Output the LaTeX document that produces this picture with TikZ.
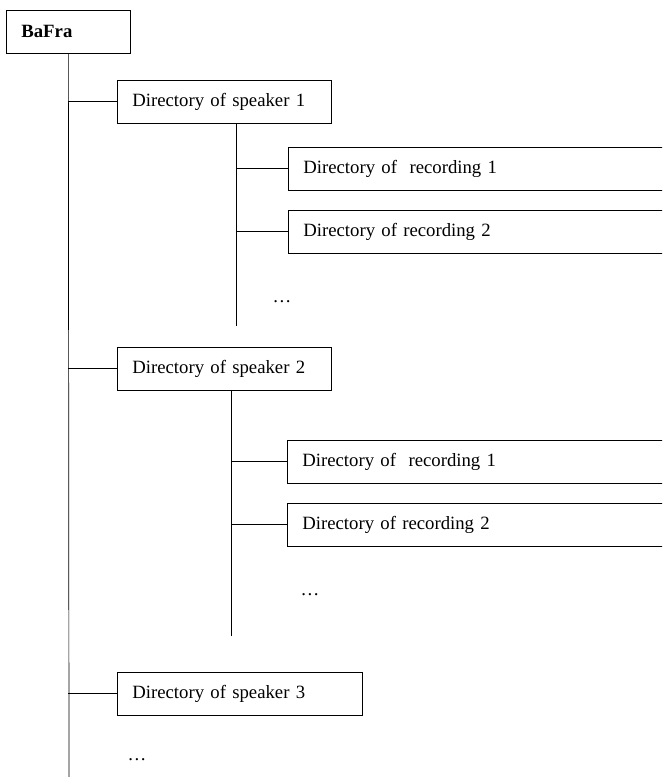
\documentclass[tikz,border=0pt]{standalone}
\usepackage{fontspec}
\setmainfont{Liberation Serif}
\usetikzlibrary{positioning}

\begin{document}
\begin{tikzpicture}[
  x=0.03cm, y=-0.03cm,
  line width=0.6pt,
  font=\fontsize{16}{19}\selectfont,
  dirbox/.style={draw, anchor=north west, inner xsep=0.45cm, inner ysep=0pt,
                 minimum height=1.28cm, align=left},
  root/.style={dirbox, text width=2.82cm},
  speaker/.style={dirbox, text width=5.52cm},
  recording/.style={dirbox, text width=12cm},
  more/.style={inner sep=0pt}
]
  \clip (0,0) rectangle (662,777);

  \node[root] (bafra) at (6,10) {\textbf{BaFra}};
  \coordinate (trunk end) at (69,777);
  \draw (bafra.south) -- (trunk end);

  % speaker 1
  \node[speaker] (spk1) at (117,80) {Directory of speaker 1};
  \draw (bafra.south |- spk1.west) -- (spk1.west);
  \coordinate (b1) at (236,326);
  \draw (b1 |- spk1.south) -- (b1);
  \node[recording] (rec11) at (288,147) {Directory of\ \ recording 1};
  \node[recording] (rec12) at (288,210) {Directory of recording 2};
  \draw (b1 |- rec11.west) -- (rec11.west);
  \draw (b1 |- rec12.west) -- (rec12.west);
  \node[more] (more1) at (282,302) {\ldots};

  % speaker 2
  \node[speaker] (spk2) at (117,347) {Directory of speaker 2};
  \draw (bafra.south |- spk2.west) -- (spk2.west);
  \coordinate (b2) at (231,636);
  \draw (b2 |- spk2.south) -- (b2);
  \node[recording] (rec21) at (287,440) {Directory of\ \ recording 1};
  \node[recording] (rec22) at (287,503) {Directory of recording 2};
  \draw (b2 |- rec21.west) -- (rec21.west);
  \draw (b2 |- rec22.west) -- (rec22.west);
  \node[more] (more2) at (310,595) {\ldots};

  % speaker 3
  \node[dirbox, text width=6.45cm] (spk3) at (117,672) {Directory of speaker 3};
  \draw (bafra.south |- spk3.west) -- (spk3.west);
  \node[more] (more3) at (137,760) {\ldots};
\end{tikzpicture}
\end{document}
